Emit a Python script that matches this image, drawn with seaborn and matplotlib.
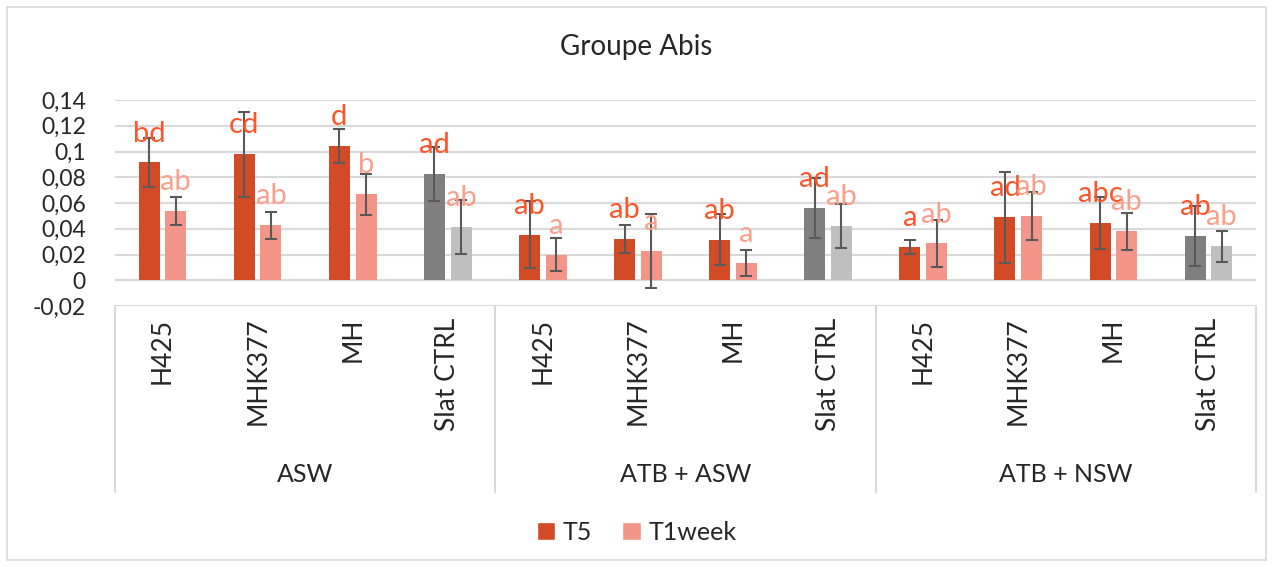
import matplotlib
matplotlib.use("Agg")
import matplotlib.pyplot as plt
from matplotlib.lines import Line2D
from matplotlib.patches import Rectangle
from matplotlib.ticker import FuncFormatter
import pandas as pd
import seaborn as sns

# ---- data -------------------------------------------------------------
groups = ["ASW", "ATB + ASW", "ATB + NSW"]
strains = ["H425", "MHK377", "MH", "Slat CTRL"]
times = ["T5", "T1week"]

t5_values = [0.0915, 0.0978, 0.1043, 0.0827,
             0.0354, 0.0322, 0.0315, 0.0562,
             0.0260, 0.0489, 0.0445, 0.0343]
t5_errors = [0.0190, 0.0330, 0.0130, 0.0210,
             0.0260, 0.0110, 0.0200, 0.0230,
             0.0053, 0.0355, 0.0204, 0.0233]
t1week_values = [0.0538, 0.0427, 0.0668, 0.0414,
                 0.0200, 0.0226, 0.0133, 0.0421,
                 0.0286, 0.0499, 0.0380, 0.0265]
t1week_errors = [0.0110, 0.0105, 0.0160, 0.0210,
                 0.0125, 0.0290, 0.0100, 0.0170,
                 0.0183, 0.0190, 0.0143, 0.0120]

t5_letters = ["bd", "cd", "d", "ad", "ab", "ab", "ab", "ad", "a", "ad", "abc", "ab"]
t1week_letters = ["ab", "ab", "b", "ab", "a", "a", "a", "ab", "ab", "ab", "ab", "ab"]

y_ticks = [-0.02, 0, 0.02, 0.04, 0.06, 0.08, 0.1, 0.12, 0.14]

# ---- styling ----------------------------------------------------------
sns.set_style("white")
plt.rcParams["font.family"] = ["Lato", "DejaVu Sans"]

bar_colors = {"T5": "#D24A26", "T1week": "#F4958A"}
ctrl_colors = {"T5": "#7F7F7F", "T1week": "#BFBFBF"}
letter_colors = {"T5": "#FF5328", "T1week": "#F9A08B"}
grid_color = "#D9D9D9"
err_color = "#595959"

# ---- long-form table ----------------------------------------------------
keys = [f"{g}|{s}" for g in groups for s in strains]
labels = [s for g in groups for s in strains]
rows = []
for k, v in zip(keys, t5_values):
    rows.append({"cat": k, "Time": "T5", "value": v})
for k, v in zip(keys, t1week_values):
    rows.append({"cat": k, "Time": "T1week", "value": v})
df = pd.DataFrame(rows)

fig = plt.figure(figsize=(12.73, 5.67), dpi=100)
W, H = 1273, 567
ax_left, ax_right, ax_top, ax_bottom = 115, 1256, 100, 306
ax = fig.add_axes([ax_left / W, 1 - ax_bottom / H,
                   (ax_right - ax_left) / W, (ax_bottom - ax_top) / H])

sns.barplot(data=df, x="cat", y="value", hue="Time", order=keys,
            hue_order=times, palette=bar_colors, width=0.56, gap=0.21,
            saturation=1, errorbar=None, ax=ax, zorder=3)

# control strain bars drawn in grey
for container, t in zip(ax.containers, times):
    for patch, lab in zip(container, labels):
        if lab == "Slat CTRL":
            patch.set_facecolor(ctrl_colors[t])
        patch.set_edgecolor("none")

# error bars and significance letters
series = {"T5": (t5_values, t5_errors, t5_letters),
          "T1week": (t1week_values, t1week_errors, t1week_letters)}
for container, t in zip(ax.containers, times):
    vals, errs, letters = series[t]
    xs = [p.get_x() + p.get_width() / 2 for p in container]
    ax.errorbar(xs, vals, yerr=errs, fmt="none", ecolor=err_color,
                elinewidth=1.5, capsize=4.5, capthick=1.5, zorder=4)
    for x, v, letter in zip(xs, vals, letters):
        ax.annotate(letter, (x, v), xytext=(0, 15), textcoords="offset points",
                    ha="center", va="baseline", fontsize=21,
                    color=letter_colors[t], zorder=5)

# axes
ax.set_ylim(-0.02, 0.14)
ax.set_xlim(-0.5, len(keys) - 0.5)
ax.set_yticks(y_ticks)
ax.yaxis.set_major_formatter(
    FuncFormatter(lambda v, _: f"{round(v, 2):g}".replace(".", ",")))
ax.yaxis.grid(True, color=grid_color, linewidth=1.5, zorder=0)
ax.set_axisbelow(True)
for sp in ax.spines.values():
    sp.set_visible(False)
ax.tick_params(axis="y", length=0, pad=21, labelsize=16.5)
ax.set_xticks(range(len(keys)))
ax.set_xticklabels(labels, rotation=90, fontsize=19)
ax.tick_params(axis="x", length=0, pad=8.5)
ax.set_xlabel("")
ax.set_ylabel("")
if ax.get_legend() is not None:
    ax.get_legend().remove()

# category box below the axis
axis_h = ax_bottom - ax_top
box_bottom = -(492 - ax_bottom) / axis_h
for xb in [-0.5, 3.5, 7.5, 11.5]:
    ax.add_line(Line2D([xb, xb], [0, box_bottom], transform=ax.get_xaxis_transform(),
                       color=grid_color, linewidth=1.5, clip_on=False))
group_y = -(475 - ax_bottom) / axis_h
for i, g in enumerate(groups):
    ax.text(i * 4 + 1.5, group_y, g, transform=ax.get_xaxis_transform(),
            ha="center", va="center", fontsize=18)

# title, legend and chart frame
fig.text(0.5, 1 - 47 / H, "Groupe Abis", ha="center", va="center", fontsize=20)
handles = [Rectangle((0, 0), 1, 1, facecolor=bar_colors[t]) for t in times]
fig.legend(handles, times, loc="center", bbox_to_anchor=(0.5, 1 - 532 / H),
           ncol=2, frameon=False, fontsize=18, handlelength=0.75,
           handleheight=0.75, handletextpad=0.3, columnspacing=1.2)
fig.add_artist(Rectangle((7 / W, 7 / H), (1266 - 7) / W, (560 - 7) / H,
                         transform=fig.transFigure, fill=False,
                         edgecolor=grid_color, linewidth=1.2))

fig.savefig("out.png", dpi=100)
